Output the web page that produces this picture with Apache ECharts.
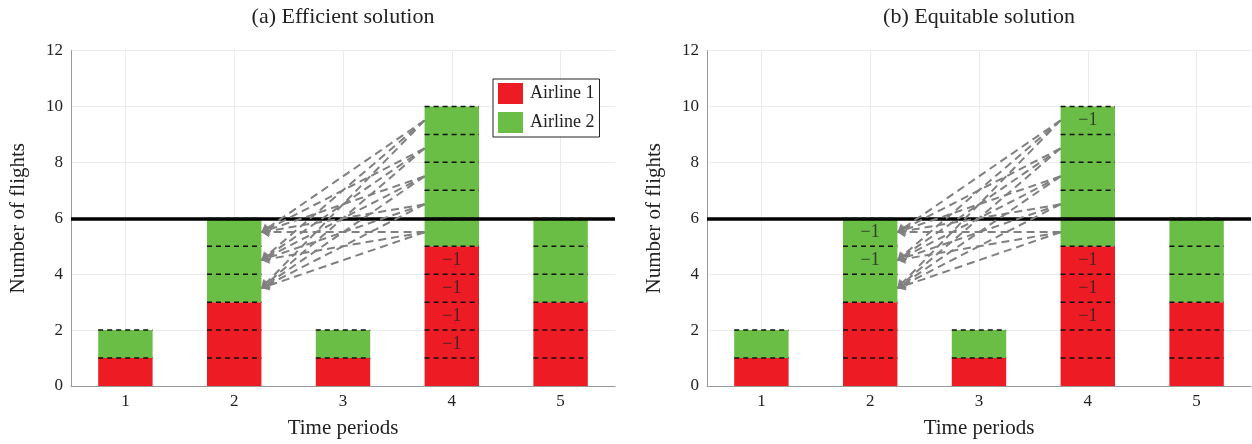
<!DOCTYPE html>
<html><head><meta charset="utf-8">
<script src="https://cdn.jsdelivr.net/npm/echarts@6/dist/echarts.min.js"></script>
<style>html,body{margin:0;padding:0;background:#fff}#c{width:1252px;height:444px}</style>
</head><body><div id="c"></div>
<script>
const periods = ['1','2','3','4','5'];
const airline1A = [1, 3, 1, 5, 3];
const airline2A = [1, 3, 1, 5, 3];
const airline1B = [1, 3, 1, 5, 3];
const airline2B = [1, 3, 1, 5, 3];
const capacity = 6;
const panelTitles = ['(a) Efficient solution', '(b) Equitable solution'];
// arrows from period-4 slots to period-2 slots
const arrowFromPeriod = 4, arrowToPeriod = 2;
const arrowFromSlots = [9.5, 8.5, 7.5, 6.5, 5.5];
const arrowToSlots = [5.5, 4.5, 3.5];
// "−1" labels [period, slot]
const minusA = [[4, 4.5], [4, 3.5], [4, 2.5], [4, 1.5]];
const minusB = [[2, 5.5], [2, 4.5], [4, 9.5], [4, 4.5], [4, 3.5], [4, 2.5]];

const RED = '#ED1C24', GREEN = '#6ABD45';
const FONT = 'Liberation Serif';
const HALF = 0.25; // half bar width in category units (barWidth 50%)

const grids = [
  {left: 71, top: 50.5, width: 544, height: 337},
  {left: 707, top: 50.5, width: 544, height: 337}
];

function sepData(a1, a2) {
  const out = [];
  a1.forEach((v, i) => {
    const tot = v + a2[i];
    for (let k = 1; k <= tot; k++) out.push([i + 1, k]);
  });
  return out;
}
function arrowData() {
  const out = [];
  arrowToSlots.forEach(t => arrowFromSlots.forEach(f => {
    out.push({coords: [[arrowFromPeriod - HALF, f], [arrowToPeriod + HALF, t]]});
  }));
  return out;
}

const option = {
  animation: false,
  textStyle: {fontFamily: FONT},
  legend: {
    data: ['Airline 1', 'Airline 2'], orient: 'vertical', left: 493, top: 79,
    padding: [4, 5, 4, 5], itemWidth: 25, itemHeight: 21, itemGap: 8,
    borderColor: '#222', borderWidth: 1, backgroundColor: '#fff',
    textStyle: {fontFamily: FONT, fontSize: 18, color: '#222', padding: [0, 0, 0, 2]},
    icon: 'rect'
  },
  graphic: grids.map((g, i) => ({
    type: 'text', x: g.left + g.width / 2, y: 17,
    style: {text: panelTitles[i], font: '22px "' + FONT + '"', fill: '#222',
            align: 'center', verticalAlign: 'middle'}
  })),
  grid: grids,
  xAxis: [0, 1].flatMap(gi => [
    {type: 'category', gridIndex: gi, data: periods, boundaryGap: true,
     name: 'Time periods', nameLocation: 'middle', nameGap: 32,
     nameTextStyle: {fontFamily: FONT, fontSize: 21, color: '#222'},
     axisLine: {lineStyle: {color: '#999'}}, axisTick: {show: false},
     axisLabel: {fontFamily: FONT, fontSize: 17, color: '#222', margin: 7},
     splitLine: {show: false}},
    {type: 'value', gridIndex: gi, min: 0.5, max: 5.5, splitNumber: 5, position: 'bottom',
     axisLine: {show: false}, axisTick: {show: false}, axisLabel: {show: false},
     splitLine: {show: true, showMinLine: false, showMaxLine: false, lineStyle: {color: '#ebebeb'}}}
  ]),
  yAxis: [0, 1].map(gi => ({
    type: 'value', gridIndex: gi, min: 0, max: 12, interval: 2,
    name: 'Number of flights', nameLocation: 'middle', nameGap: 42,
    nameTextStyle: {fontFamily: FONT, fontSize: 21, color: '#222'},
    axisLine: {show: true, lineStyle: {color: '#999'}}, axisTick: {show: false},
    axisLabel: {fontFamily: FONT, fontSize: 17, color: '#222', margin: 8},
    splitLine: {lineStyle: {color: '#ebebeb'}}
  })),
  series: []
};

const panels = [[airline1A, airline2A, minusA], [airline1B, airline2B, minusB]];
panels.forEach((p, gi) => {
  const catX = gi * 2, valX = gi * 2 + 1;
  option.series.push(
    {type: 'bar', name: 'Airline 1', xAxisIndex: catX, yAxisIndex: gi, stack: 's' + gi,
     data: p[0], barWidth: '50%', itemStyle: {color: RED}},
    {type: 'bar', name: 'Airline 2', xAxisIndex: catX, yAxisIndex: gi, stack: 's' + gi,
     data: p[1], barWidth: '50%', itemStyle: {color: GREEN}},
    {type: 'custom', xAxisIndex: valX, yAxisIndex: gi, z: 5, silent: true,
     data: sepData(p[0], p[1]),
     renderItem: (params, api) => {
       const x = api.value(0), y = api.value(1);
       const a = api.coord([x - HALF, y]), b = api.coord([x + HALF, y]);
       return {type: 'line', shape: {x1: a[0], y1: a[1], x2: b[0], y2: b[1]},
               style: {stroke: '#111', lineWidth: 1.5, lineDash: [5, 4]}};
     }},
    {type: 'lines', coordinateSystem: 'cartesian2d', xAxisIndex: valX, yAxisIndex: gi, z: 6,
     silent: true, symbol: ['none', 'arrow'], symbolSize: 8,
     lineStyle: {color: '#808080', width: 2, type: [8, 5], opacity: 1},
     data: arrowData()},
    {type: 'scatter', xAxisIndex: valX, yAxisIndex: gi, z: 7, silent: true, symbolSize: 0,
     data: p[2],
     label: {show: true, position: 'inside', formatter: '−1', fontFamily: FONT, fontSize: 18, color: '#222'}},
    {type: 'line', xAxisIndex: valX, yAxisIndex: gi, data: [], z: 8,
     markLine: {silent: true, symbol: ['none', 'none'], label: {show: false},
                lineStyle: {color: '#000', width: 3.5, type: 'solid'},
                data: [{yAxis: capacity}]}}
  );
});

const chart = echarts.init(document.getElementById('c'));
chart.setOption(option);
</script></body></html>
